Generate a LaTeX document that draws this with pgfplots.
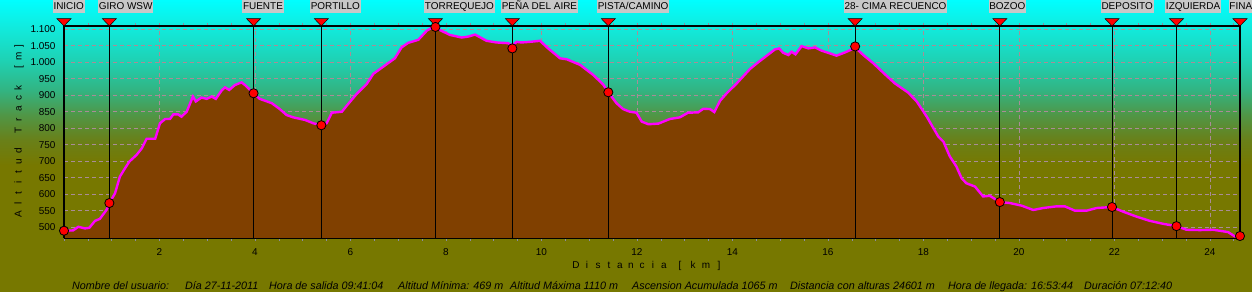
\documentclass[border=0pt]{standalone}
\usepackage{pgfplots}
\pgfplotsset{compat=1.18}
\usepackage{pgfplotstable}
\usepackage{fontspec}
\setmainfont{Liberation Sans}

\definecolor{cy0}{RGB}{0,255,255}
\definecolor{cy1}{RGB}{16,236,224}
\definecolor{cy2}{RGB}{30,210,180}
\definecolor{cy3}{RGB}{50,180,130}
\definecolor{cy4}{RGB}{80,150,70}
\definecolor{cy5}{RGB}{105,128,25}
\definecolor{olv}{RGB}{119,120,0}
\definecolor{brn}{RGB}{128,64,0}
\definecolor{mag}{RGB}{255,0,255}
\definecolor{grd}{RGB}{170,140,150}
\definecolor{lbg}{RGB}{200,200,200}
\definecolor{tkc}{RGB}{140,140,160}

\pgfdeclareverticalshading{bgsh}{100bp}{color(0bp)=(olv); color(46.75bp)=(olv); color(51.03bp)=(cy5); color(55.31bp)=(cy4); color(59.59bp)=(cy3); color(64.73bp)=(cy2); color(70.72bp)=(cy1); color(75bp)=(cy0); color(100bp)=(cy0)}

\pgfplotstableread{
x y
0.00 489
0.19 490
0.30 501
0.44 496
0.53 498
0.65 519
0.75 525
0.89 552
0.95 573
1.07 603
1.17 653
1.28 679
1.37 699
1.52 719
1.63 739
1.73 768
1.91 768
2.01 815
2.12 828
2.22 828
2.29 842
2.39 842
2.46 835
2.57 850
2.70 896
2.76 881
2.88 893
2.99 889
3.09 896
3.18 889
3.30 914
3.37 924
3.46 916
3.58 931
3.72 939
3.79 931
3.97 906
4.10 889
4.35 876
4.52 858
4.66 840
4.80 833
5.05 825
5.22 815
5.39 809
5.50 815
5.61 847
5.82 850
5.92 868
6.13 904
6.34 934
6.48 965
6.69 987
6.93 1012
7.07 1045
7.21 1059
7.42 1068
7.60 1096
7.77 1110
7.87 1098
8.08 1083
8.33 1075
8.47 1078
8.61 1084
8.85 1065
9.06 1060
9.30 1058
9.39 1050
9.48 1062
9.58 1060
9.76 1062
9.97 1065
10.14 1042
10.39 1012
10.53 1009
10.81 992
11.08 962
11.29 933
11.40 909
11.57 876
11.71 858
11.85 850
11.99 847
12.10 820
12.24 812
12.45 814
12.69 828
12.90 833
13.07 847
13.28 848
13.39 859
13.53 858
13.62 849
13.74 883
13.88 906
14.09 936
14.37 980
14.54 1000
14.72 1020
14.89 1039
14.98 1042
15.06 1029
15.17 1022
15.24 1032
15.32 1024
15.45 1049
15.59 1042
15.73 1045
15.87 1035
16.04 1027
16.18 1020
16.36 1030
16.50 1039
16.57 1045
16.74 1022
16.95 997
17.16 968
17.40 936
17.68 908
17.86 881
18.07 835
18.31 775
18.42 759
18.55 715
18.69 684
18.80 648
18.90 633
19.08 623
19.25 593
19.39 595
19.60 576
19.81 573
20.06 565
20.30 552
20.51 558
20.79 563
20.96 563
21.17 550
21.42 550
21.63 558
21.95 561
22.18 547
22.46 532
22.74 519
23.02 510
23.30 503
23.51 492
23.79 491
24.07 492
24.38 485
24.52 472
24.63 473
}\prof

\tikzset{
  lbl/.style={fill=lbg, inner xsep=0.8bp, inner ysep=0pt, minimum height=13bp,
    text height=7.4bp, text depth=0pt, font=\fontsize{10}{12}\selectfont,
    anchor=south west, xshift=-11.5bp, yshift=13bp},
}
\newcommand\LA[1]{\makebox[10.5bp]{#1}}
\newcommand\LB[1]{\makebox[11bp]{#1}}
\newcommand\LC[1]{\makebox[13bp]{#1}}

\begin{document}
\begin{tikzpicture}
\shade[shading=bgsh] (0bp,0bp) rectangle (1252bp,292bp);
\begin{axis}[
  at={(64bp,54bp)}, anchor=south west, scale only axis,
  width=1176bp, height=212bp,
  xmin=0, xmax=24.63, ymin=467, ymax=1110,
  axis line style={draw=none},
  xtick={2,4,...,24}, minor xtick={0,0.5,...,24.5},
  ytick={500,550,...,1100},
  tick align=outside, major tick length=3bp, minor tick length=3bp,
  xtick style={draw=tkc, line width=0.6bp},
  ytick style={draw=none},
  grid=major, grid style={draw=grd, line width=0.8bp, dash pattern=on 4bp off 3bp},
  ticklabel style={font=\fontsize{10}{12}\selectfont, text=black},
  /pgf/number format/assume math mode=true,
  /pgf/number format/1000 sep={.},
  xticklabel shift=4bp, yticklabel shift=2bp,
]
\addplot[draw=none, fill=brn] table {\prof} \closedcycle;
\addplot[draw=mag, line width=2.4bp] table {\prof};
\addplot[ycomb, draw=black, line width=0.9bp] coordinates {
(0,1110) (0.95,1110) (3.97,1110) (5.39,1110) (7.78,1110) (9.39,1110)
(11.40,1110) (16.57,1110) (19.60,1110) (21.95,1110) (23.30,1110) (24.63,1110)};
\end{axis}
\begin{axis}[
  at={(64bp,54bp)}, anchor=south west, scale only axis,
  width=1176bp, height=212bp,
  xmin=0, xmax=24.63, ymin=467, ymax=1110,
  clip=false, hide axis,
]
\draw[black, line width=0.9bp] (axis cs:0,467) -- (axis cs:24.63,467);
\draw[black, line width=2.6bp] (axis cs:0,467) |- (axis cs:24.63,1110) -- (axis cs:24.63,467);
\addplot[only marks, mark=triangle*, mark size=8bp,
  mark options={fill=red, draw=black, line width=0.5bp, rotate=180, yscale=0.6}] coordinates {
(0,1124.7) (0.95,1124.7) (3.97,1124.7) (5.39,1124.7) (7.78,1124.7) (9.39,1124.7)
(11.40,1124.7) (16.57,1124.7) (19.60,1124.7) (21.95,1124.7) (23.30,1124.7) (24.63,1124.7)};
\addplot[only marks, mark=*, mark size=4.6bp,
  mark options={fill=red, draw=black, line width=0.8bp}] coordinates {
(0,489) (0.95,573) (3.97,906) (5.39,809) (7.78,1107) (9.39,1042)
(11.40,909) (16.57,1048) (19.60,576) (21.95,561) (23.30,503) (24.63,473)};
\node[lbl] at (axis cs:0,1110) {INICIO};
\node[lbl] at (axis cs:0.95,1110) {GIRO WSW};
\node[lbl] at (axis cs:3.97,1110) {FUENTE};
\node[lbl] at (axis cs:5.39,1110) {PORTILLO};
\node[lbl] at (axis cs:7.78,1110) {TORREQUEJO};
\node[lbl] at (axis cs:9.39,1110) {PEÑA DEL AIRE};
\node[lbl] at (axis cs:11.40,1110) {PISTA/CAMINO};
\node[lbl] at (axis cs:16.57,1110) {28- CIMA RECUENCO};
\node[lbl] at (axis cs:19.60,1110) {BOZOO};
\node[lbl] at (axis cs:21.95,1110) {DEPOSITO};
\node[lbl] at (axis cs:23.30,1110) {IZQUIERDA};
\node[lbl] at (axis cs:24.63,1110) {FINAL};
\end{axis}
\node[rotate=90, inner sep=0pt, font=\fontsize{10}{12}\selectfont] at (19bp,162bp)
  {\LA{A}\LA{l}\LA{t}\LA{i}\LA{t}\LA{u}\LA{d}\LA{}\LA{T}\LA{r}\LA{a}\LA{c}\LA{k}\LA{}\LA{[}\LA{m}\LA{]}};
\node[inner sep=0pt, font=\fontsize{10}{12}\selectfont] at (648bp,26bp)
  {\LB{D}\LB{i}\LB{s}\LB{t}\LB{a}\LB{n}\LB{c}\LB{i}\LB{a}\hspace{4bp}\LC{[}\LC{k}\LC{m}\LC{]}};
\begin{scope}[every node/.style={anchor=base west, inner sep=0pt, font=\fontsize{10.8}{12}\selectfont\itshape}]
\node at (72bp,3bp) {Nombre del usuario:};
\node at (185bp,3bp) {Día 27-11-2011};
\node at (269bp,3bp) {Hora de salida 09:41:04};
\node at (398bp,3bp) {Altitud Mínima: 469 m};
\node at (510bp,3bp) {Altitud Máxima 1110 m};
\node at (632bp,3bp) {Ascension Acumulada 1065 m};
\node at (790bp,3bp) {Distancia con alturas 24601 m};
\node at (948bp,3bp) {Hora de llegada: 16:53:44};
\node at (1084bp,3bp) {Duración 07:12:40};
\end{scope}
\pgfresetboundingbox
\path[use as bounding box] (0bp,0bp) rectangle (1252bp,292bp);
\end{tikzpicture}
\end{document}
